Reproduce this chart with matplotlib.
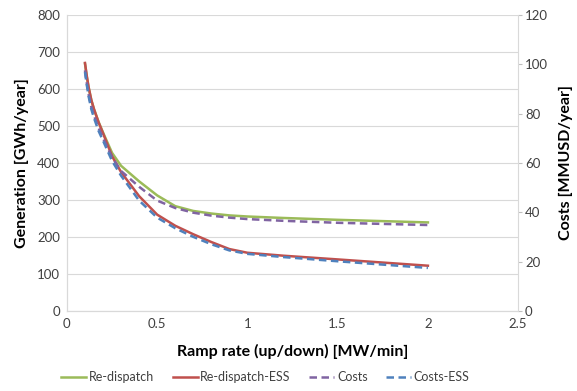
import matplotlib
matplotlib.use('Agg')
import matplotlib.pyplot as plt

plt.rcParams['font.family'] = ['Lato', 'DejaVu Sans']

ramp = [0.1, 0.11, 0.12, 0.135, 0.15, 0.175, 0.2, 0.25, 0.3, 0.4, 0.5, 0.6, 0.7, 0.8, 0.9, 1.0, 1.2, 1.5, 2.0]
redispatch = [668, 633, 604, 570, 545, 511, 482, 427, 392, 350, 312, 283, 270, 263, 258, 255, 251, 246, 239]
redispatch_ess = [670, 635, 605, 570, 545, 510, 480, 418, 375, 310, 260, 230, 207, 186, 167, 157, 149, 139, 122]
costs = [97.5, 92.3, 87.8, 82.7, 79.2, 74.2, 70.0, 62.3, 56.7, 50.3, 44.7, 41.7, 39.8, 38.6, 37.8, 37.2, 36.5, 35.7, 34.8]
costs_ess = [96.8, 91.6, 87.0, 81.8, 78.2, 73.0, 69.0, 60.8, 54.8, 44.7, 37.8, 33.5, 30.0, 27.0, 24.5, 23.1, 21.8, 20.1, 17.4]

grid_c = '#d9d9d9'
text_c = '#404040'

fig = plt.figure(figsize=(5.77, 3.91), dpi=100)
ax = fig.add_axes([0.116, 0.205, 0.782, 0.757])
ax2 = ax.twinx()

l1, = ax.plot(ramp, redispatch, color='#9bbb59', lw=1.8, label='Re-dispatch')
l2, = ax.plot(ramp, redispatch_ess, color='#c0504d', lw=1.8, label='Re-dispatch-ESS')
l3, = ax2.plot(ramp, costs, color='#8064a2', lw=1.8, ls=(0, (3, 1.8)), label='Costs')
l4, = ax2.plot(ramp, costs_ess, color='#4f81bd', lw=1.8, ls=(0, (3, 1.8)), label='Costs-ESS')

ax.set_xlim(0, 2.5)
ax.set_ylim(0, 800)
ax2.set_ylim(0, 120)
ax.set_xticks([0, 0.5, 1, 1.5, 2, 2.5])
ax.set_xticklabels(['0', '0.5', '1', '1.5', '2', '2.5'])
ax.set_yticks(range(0, 801, 100))
ax2.set_yticks(range(0, 121, 20))

ax.grid(axis='y', color=grid_c, lw=0.8)
ax.set_axisbelow(True)
for a in (ax, ax2):
    for s in a.spines.values():
        s.set_color(grid_c)
    a.spines['top'].set_visible(False)
    a.tick_params(labelsize=9.5, colors=text_c)
ax.tick_params(axis='both', length=0, pad=5)
ax2.tick_params(axis='y', length=3, color='#bfbfbf', pad=2)
ax.spines['right'].set_visible(False)

ax.set_xlabel('Ramp rate (up/down) [MW/min]', fontsize=11.5, fontweight='bold', labelpad=10)
ax.set_ylabel('Generation [GWh/year]', fontsize=11.5, fontweight='bold', labelpad=6)
ax2.set_ylabel('Costs [MMUSD/year]', fontsize=11.5, fontweight='bold', labelpad=8)

fig.legend(handles=[l1, l2, l3, l4], loc='center', bbox_to_anchor=(0.46, 0.035),
           ncol=4, frameon=False, fontsize=9, handlelength=2.0, handletextpad=0.2,
           columnspacing=1.5, labelcolor=text_c)

fig.savefig('out.png', dpi=100)
